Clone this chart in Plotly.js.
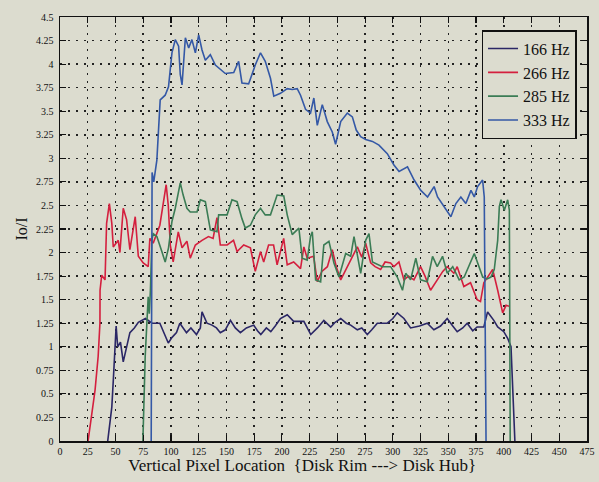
<!DOCTYPE html>
<html>
<head>
<meta charset="utf-8">
<script src="https://cdn.plot.ly/plotly-3.0.1.min.js"></script>
<style>html,body{margin:0;padding:0;background:#dcdccf;}</style>
</head>
<body>
<div id="chart" style="width:599px;height:482px;"></div>
<script>
// Series names
const seriesNames = ["166 Hz", "266 Hz", "285 Hz", "333 Hz"];

// [pixel location, Io/I] pairs
const hz166 = [[43,0],[46.7,0.36],[48.2,0.68],[49.7,1.07],[50.6,1.22],[52,1.0],[54.5,1.05],[57,0.84],[60,1.0],[63,1.15],[67,1.2],[70.6,1.26],[77,1.3],[83,1.25],[90,1.25],[97.6,1.04],[101,1.1],[105,1.15],[108,1.25],[114,1.15],[118,1.2],[123,1.13],[126.5,1.2],[128,1.37],[132.5,1.25],[137,1.23],[141,1.2],[144.5,1.15],[149,1.18],[153.6,1.28],[158,1.2],[162.6,1.15],[168,1.2],[174.6,1.23],[178,1.17],[181,1.13],[186,1.2],[190,1.16],[194,1.22],[198.7,1.3],[204.8,1.34],[210.6,1.27],[219.8,1.27],[226,1.13],[232,1.2],[237.8,1.28],[244,1.21],[248,1.26],[253,1.3],[258,1.25],[262,1.23],[268,1.18],[272,1.2],[277,1.13],[281,1.18],[286,1.25],[295,1.25],[300,1.3],[304,1.36],[310,1.3],[316,1.2],[324,1.22],[331,1.25],[337,1.18],[343,1.22],[349,1.3],[354,1.22],[358,1.16],[363,1.2],[367,1.25],[372,1.17],[376,1.21],[382,1.21],[385.4,1.37],[391,1.28],[394.5,1.21],[400,1.16],[403.5,1.09],[406.5,1.0],[408.5,0.5],[410,0]];

const hz266 = [[25.3,0],[28.6,0.26],[31.6,0.54],[34.4,0.9],[36,1.25],[36.1,1.6],[37.6,1.76],[40.6,1.71],[42,2.31],[44.5,2.52],[46.7,2.31],[48,2.06],[52.5,2.13],[54,2.0],[57,2.47],[60,2.35],[63,2.03],[67.8,2.38],[70.6,1.96],[75,1.89],[79.5,1.85],[81,2.15],[84,2.1],[90,2.29],[95.7,2.72],[97.6,2.5],[99.4,2.08],[102,1.9],[106.6,2.22],[110,2.05],[114.4,2.12],[117.4,1.94],[122,2.08],[128,2.13],[133.8,2.17],[138,2.15],[141.5,2.37],[144.5,2.08],[150.6,2.08],[156.4,2.13],[159.6,2.01],[165.6,2.08],[171.6,2.05],[176,1.8],[180.7,2.01],[183.6,1.9],[188,2.08],[192.5,2.08],[195.7,1.87],[201.6,2.15],[204.8,1.87],[210.6,1.9],[216.8,1.83],[219.8,2.06],[222.8,1.94],[228.6,1.96],[231.9,1.69],[236,1.8],[241,1.85],[245.4,2.03],[249,1.85],[253,1.71],[257,1.8],[262,1.92],[268,2.06],[272,1.95],[275.5,2.1],[280,1.89],[284,1.85],[289,1.82],[293,1.9],[298,1.89],[301,1.85],[305.5,1.9],[310,1.71],[314,1.75],[319,1.71],[325,1.85],[329,1.75],[334,1.6],[340,1.71],[345,1.8],[349,1.85],[355,1.78],[358,1.85],[364,1.64],[370,1.68],[376,1.5],[379,1.48],[382,1.68],[386,1.75],[390,1.82],[394.5,1.6],[397.5,1.43],[399,1.36],[402,1.44],[404.7,1.43]];

const hz285 = [[74.7,0],[76.8,0.9],[79.5,1.53],[80.5,1.35],[81.5,1.6],[82.8,2.13],[84,2.2],[87.3,2.17],[91.8,2.01],[94.8,1.9],[97.8,2.05],[100.9,2.33],[103.9,2.47],[108.4,2.74],[111,2.61],[114.4,2.47],[117.4,2.43],[123.5,2.43],[126.5,2.56],[131,2.54],[135.5,2.24],[141.5,2.22],[143,2.4],[150.6,2.4],[155,2.56],[159.6,2.54],[164,2.36],[167,2.26],[171.6,2.29],[176,2.4],[180.7,2.47],[185,2.4],[189.7,2.4],[195.7,2.61],[201.7,2.6],[204.8,2.4],[209.3,2.19],[212.3,2.22],[215.3,2.26],[218.3,1.94],[222.8,1.92],[225.8,2.17],[227.4,2.22],[230.4,1.71],[234.9,1.69],[237.8,2.08],[242.4,2.12],[246.9,1.89],[251.4,1.74],[257.5,1.99],[262,1.96],[265,2.17],[271,1.78],[275.5,2.13],[278.5,2.2],[281.6,1.9],[290.6,1.85],[298,1.85],[304,1.74],[308.7,1.6],[311.6,1.78],[316,1.71],[320.7,1.94],[325,1.71],[331,1.69],[335.8,1.96],[340,1.85],[344.8,1.96],[349,1.78],[354,1.85],[359.8,1.71],[364.3,1.74],[373.4,1.99],[381,1.74],[385,1.72],[388.4,1.74],[391.4,1.82],[394.5,2.13],[396,2.49],[397.5,2.56],[400.5,2.45],[403.5,2.56],[405,2.45],[405.8,0]];

const hz333 = [[82.2,0],[82.6,2.4],[83,2.85],[84.5,2.75],[87.3,2.98],[90.3,3.62],[94.8,3.67],[97.8,3.76],[100.9,4.12],[103.9,4.26],[106.9,4.19],[108.4,3.89],[110,3.78],[113,4.28],[116,4.17],[118.9,4.26],[122,4.12],[125,4.31],[128,4.15],[131,4.04],[135.5,4.1],[140,3.99],[144.5,3.94],[149,3.9],[156.6,3.91],[161,4.03],[164,3.8],[170,3.79],[176,3.99],[180.7,4.12],[185,4.03],[189.7,3.85],[192.7,3.66],[198.7,3.69],[204.8,3.74],[209.3,3.73],[213.8,3.74],[216.8,3.67],[221.3,3.52],[225.8,3.48],[228.8,3.64],[231.9,3.35],[236.4,3.57],[240.9,3.39],[245.4,3.28],[248.4,3.15],[253,3.39],[259,3.48],[263.5,3.44],[267,3.3],[271,3.23],[275.5,3.2],[281.6,3.18],[287.5,3.14],[295,3.05],[301,2.93],[305.6,2.86],[313.2,2.91],[319.2,2.77],[325.2,2.66],[331.3,2.59],[337.2,2.7],[340.3,2.59],[346.3,2.49],[352.3,2.38],[356.8,2.52],[361.3,2.59],[365.8,2.52],[370.4,2.66],[373.4,2.59],[376.4,2.7],[380.9,2.77],[382.4,2.59],[384,0]];

const seriesData = [hz166, hz266, hz285, hz333];
const seriesColors = ["#2b2766", "#d41f3e", "#3b7c55", "#3458a6"];

const bg = "#dcdccf";
const traces = seriesData.map((d, i) => ({
  type: "scatter",
  mode: "lines",
  name: seriesNames[i],
  x: d.map(p => p[0]),
  y: d.map(p => p[1]),
  line: {color: seriesColors[i], width: 1.6}
}));

const axisCommon = {
  showline: true, linecolor: "#111", linewidth: 1.5, mirror: "ticks",
  ticks: "inside", ticklen: 6, tickwidth: 1.2, tickcolor: "#111",
  showgrid: true, gridcolor: "#222", gridwidth: 1.5, griddash: "2px,6px",
  zeroline: false,
  tickfont: {family: "Liberation Serif", size: 10, color: "#111"}
};

const layout = {
  width: 599, height: 482,
  margin: {l: 60, r: 12, t: 17, b: 41},
  paper_bgcolor: bg, plot_bgcolor: bg,
  showlegend: true,
  legend: {
    x: 0.89, y: 0.969, xanchor: "center", yanchor: "top",
    bgcolor: bg, bordercolor: "#111", borderwidth: 1.5,
    font: {family: "Liberation Serif", size: 16, color: "#111"},
    itemwidth: 30, tracegroupgap: 0
  },
  xaxis: Object.assign({}, axisCommon, {
    range: [0, 475], dtick: 25, tick0: 0,
    title: {text: "Vertical Pixel Location&nbsp;&nbsp;{Disk Rim ---&gt; Disk Hub}&nbsp;&nbsp;&nbsp;&nbsp;&nbsp;&nbsp;&nbsp;&nbsp;&nbsp;&nbsp;",
            font: {family: "Liberation Serif", size: 17, color: "#111"}, standoff: 1}
  }),
  yaxis: Object.assign({}, axisCommon, {
    range: [0, 4.5], dtick: 0.25, tick0: 0, ticklabelstandoff: 3,
    title: {text: "Io/I", font: {family: "Liberation Serif", size: 16, color: "#111"}, standoff: 4}
  })
};

Plotly.newPlot("chart", traces, layout, {displayModeBar: false, staticPlot: true});
</script>
</body>
</html>
